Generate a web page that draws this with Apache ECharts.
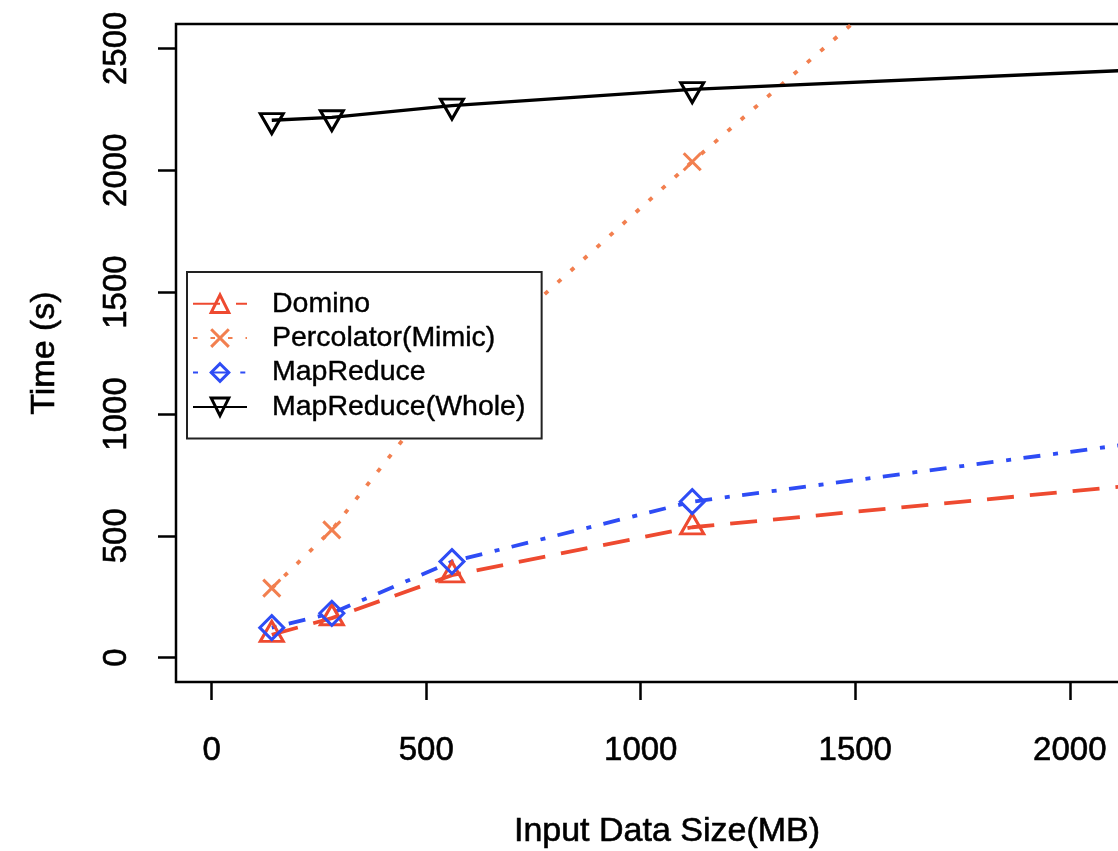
<!DOCTYPE html>
<html>
<head>
<meta charset="utf-8">
<script src="https://cdn.jsdelivr.net/npm/echarts@6/dist/echarts.min.js"></script>
<style>
html,body{margin:0;padding:0;background:#fff;}
#chart{width:1118px;height:851px;}
</style>
</head>
<body>
<div id="chart"></div>
<script>
// ---- data ----
const sizesMB = [140, 280, 560, 1120, 2240];
const domino = [94, 162, 338, 535, 722];
const percolator = [285, 524, 1150, 2035, 3735];
const mapReduce = [123, 182, 394, 640, 900];
const mapReduceWhole = [2205, 2217, 2265, 2332, 2418];
const seriesNames = ['Domino', 'Percolator(Mimic)', 'MapReduce', 'MapReduce(Whole)'];
const xTicks = [0, 500, 1000, 1500, 2000];
const yTicks = [0, 500, 1000, 1500, 2000, 2500];
const xTitle = 'Input Data Size(MB)';
const yTitle = 'Time (s)';

const FONT = 'Liberation Sans, Arial, Helvetica, sans-serif';
const pairs = (ys) => sizesMB.map((x, i) => [x, ys[i]]);

const chart = echarts.init(document.getElementById('chart'), null, {renderer: 'canvas'});

function mkSeries(name, ys, color, dash, symbol, size, offset, width) {
  return {
    name: name,
    type: 'line',
    data: pairs(ys),
    color: color,
    symbol: symbol,
    symbolSize: size,
    symbolOffset: offset || [0, 0],
    showAllSymbol: true,
    clip: true,
    lineStyle: {color: color, width: width, type: dash, cap: 'butt'},
    itemStyle: {color: 'none', borderColor: color, borderWidth: 3},
    emphasis: {disabled: true}
  };
}

const heavy = {textBorderColor: '#000', textBorderWidth: 0.6};

const option = {
  animation: false,
  backgroundColor: '#fff',
  textStyle: {fontFamily: FONT, color: '#000'},
  grid: {
    left: 176, top: 24, right: -40, bottom: 169,
    show: true, borderColor: '#000', borderWidth: 2.5,
    outerBoundsMode: 'none', containLabel: false
  },
  legend: {
    orient: 'vertical',
    left: 187, top: 272,
    data: seriesNames,
    backgroundColor: '#fff',
    borderColor: '#222', borderWidth: 2,
    padding: [17, 16, 17, 5],
    itemWidth: 54, itemHeight: 22, itemGap: 5,
    textStyle: Object.assign({fontFamily: FONT, fontSize: 28.5, color: '#000', lineHeight: 22, padding: [0, 0, 0, 20]}, {textBorderColor: '#000', textBorderWidth: 0.4}),
    itemStyle: {borderWidth: 3}
  },
  xAxis: {
    type: 'value',
    min: -83.2, max: 2205.6,
    name: xTitle, nameLocation: 'middle', nameGap: 133,
    nameTextStyle: Object.assign({fontFamily: FONT, fontSize: 34, color: '#000'}, heavy),
    axisLine: {show: false, onZero: false},
    splitLine: {show: false},
    axisTick: {show: true, customValues: xTicks, length: 18, lineStyle: {color: '#000', width: 2.5}},
    axisLabel: Object.assign({customValues: xTicks, margin: 52, fontFamily: FONT, fontSize: 33, color: '#000',
      formatter: (v) => String(v)}, heavy)
  },
  yAxis: {
    type: 'value',
    min: -100, max: 2600,
    name: yTitle, nameLocation: 'middle', nameGap: 114,
    nameTextStyle: Object.assign({fontFamily: FONT, fontSize: 34, color: '#000'}, heavy),
    axisLine: {show: false, onZero: false},
    splitLine: {show: false},
    axisTick: {show: true, customValues: yTicks, length: 18, lineStyle: {color: '#000', width: 2.5}},
    axisLabel: Object.assign({customValues: yTicks, margin: 43, rotate: 90, fontFamily: FONT, fontSize: 33, color: '#000',
      formatter: (v) => String(v)}, heavy)
  },
  series: [
    mkSeries(seriesNames[0], domino, '#EE4A30', [27, 16], 'path://M0,-1.555L1.347,0.778L-1.347,0.778Z', [23, 20], [0, -3.4], 3.8),
    mkSeries(seriesNames[1], percolator, '#F27F4F', [4.5, 13], 'path://M0,0L10,10M10,0L0,10', [17, 17], [0, 0], 3.8),
    mkSeries(seriesNames[2], mapReduce, '#2E4CF5', [5, 12.5, 17, 12.8], 'path://M0,-1L1,0L0,1L-1,0Z', [24, 24], [0, 0], 3.8),
    mkSeries(seriesNames[3], mapReduceWhole, '#000000', 'solid', 'path://M0,1.555L1.347,-0.778L-1.347,-0.778Z', [23, 20], [0, 3.4], 3.3)
  ]
};
chart.setOption(option);
</script>
</body>
</html>
